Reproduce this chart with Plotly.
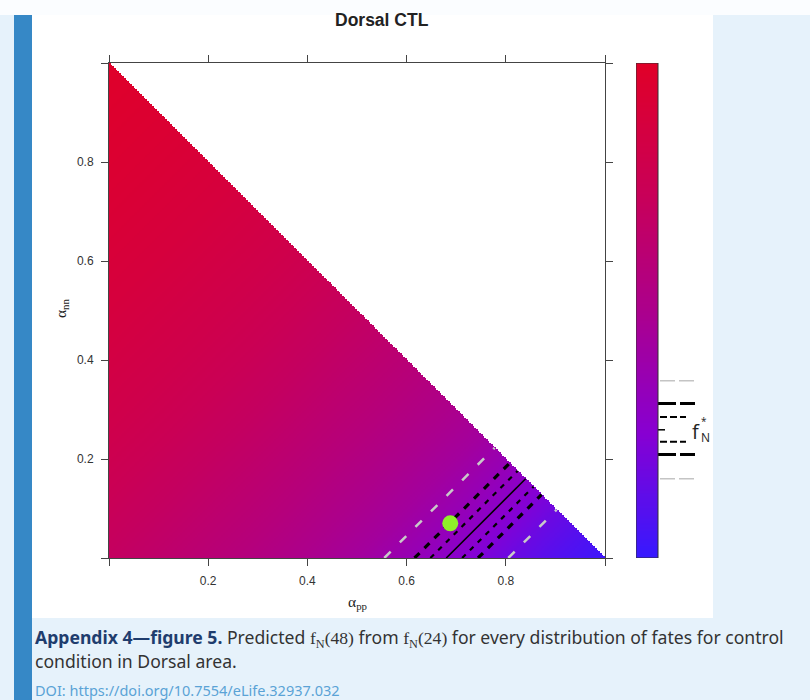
import numpy as np
import plotly.graph_objects as go

W, H = 810, 700

# ---------------- data ----------------
title_text = "Dorsal CTL"
tick_values = [0, 0.2, 0.4, 0.6, 0.8, 1.0]
tick_labels = ["", "0.2", "0.4", "0.6", "0.8", ""]

# predicted f_N* read along alpha_pp - alpha_nn (colour is constant along 45 deg lines)
profile_diff = [-1.0, -0.75, -0.5, -0.25, 0.0, 0.25, 0.5, 0.6, 0.7, 0.8, 0.9, 1.0]
profile_fN = [0.99, 0.94, 0.88, 0.80, 0.70, 0.58, 0.44, 0.36, 0.27, 0.17, 0.09, 0.02]

# contour lines (alpha_pp - alpha_nn)
contour_gray = [0.555, 0.805]
contour_thick = [0.616, 0.744]
contour_thin = [0.648, 0.712]
contour_solid = [0.68]

# observed point
observed_pp = [0.688]
observed_nn = [0.07]

# colour-key marks (f_N* levels)
key_gray = [0.358, 0.160]
key_thick = [0.312, 0.209]
key_thin = [0.285, 0.235]
key_center = [0.259]

colorscale = [
    [0.0, "rgb(55,25,255)"],
    [0.25, "rgb(135,0,210)"],
    [0.5, "rgb(172,0,140)"],
    [0.75, "rgb(202,0,85)"],
    [1.0, "rgb(224,0,40)"],
]

# ---------------- helpers ----------------
def px(x):
    return x / W


def py(y):
    return 1 - y / H


# main plot pixel frame
X0, X1 = 109, 605
Y0, Y1 = 63, 558
# colour key frame
CX0, CX1 = 636, 700
CB_W = 22

N = 300
centers = (np.arange(N) + 0.5) / N
A_pp, A_nn = np.meshgrid(centers, centers)
Z = np.interp(A_pp - A_nn, profile_diff, profile_fN)
Z = np.where(A_pp + A_nn > 1.0, np.nan, np.round(Z, 3))

fig = go.Figure()
fig.add_trace(go.Heatmap(x=centers, y=centers, z=Z, colorscale=colorscale,
                         zmin=0, zmax=1, showscale=False, hoverinfo="skip",
                         xaxis="x", yaxis="y"))

def add_lines(diffs, color, width, dash):
    for c in diffs:
        fig.add_trace(go.Scatter(x=[c, (1 + c) / 2], y=[0, (1 - c) / 2], mode="lines",
                                 line=dict(color=color, width=width, dash=dash),
                                 showlegend=False, hoverinfo="skip", xaxis="x", yaxis="y"))

add_lines(contour_gray, "#c9c9c9", 2.5, "9px,13px")
add_lines(contour_thin, "#000000", 2.2, "5px,6px")
add_lines(contour_thick, "#000000", 3.2, "7px,7px")
add_lines(contour_solid, "#000000", 1.6, "solid")

fig.add_trace(go.Scatter(x=observed_pp, y=observed_nn, mode="markers",
                         marker=dict(color="#8ff02a", size=16, line=dict(width=0)),
                         showlegend=False, hoverinfo="skip", xaxis="x", yaxis="y"))

# colour key (edges given for x and y)
levels = np.linspace(0, 1, 257)
level_edges = np.linspace(0, 1, 258)
fig.add_trace(go.Heatmap(x=[0, CB_W], y=level_edges, z=levels.reshape(-1, 1),
                         colorscale=colorscale, zmin=0, zmax=1, showscale=False,
                         hoverinfo="skip", xaxis="x2", yaxis="y2"))

def add_key(levels_, color, width, dash, x_end, x_start=CB_W):
    for lv in levels_:
        fig.add_trace(go.Scatter(x=[x_start, x_end], y=[lv, lv], mode="lines",
                                 line=dict(color=color, width=width, dash=dash),
                                 showlegend=False, hoverinfo="skip", xaxis="x2", yaxis="y2"))

add_key(key_gray, "#c4c4c4", 1.5, "15px,4px", 58, 24)
add_key(key_thick, "#000000", 3.0, "18px,4px", 59)
add_key(key_thin, "#000000", 2.0, "7px,3px", 50, 24)
add_key(key_center, "#000000", 1.5, "solid", 29)

axis_common = dict(showgrid=False, zeroline=False, showline=True, linecolor="#444",
                   linewidth=1, mirror="allticks", ticks="outside", ticklen=7,
                   tickcolor="#444", tickwidth=1, tickvals=tick_values, ticktext=tick_labels,
                   tickfont=dict(family="Liberation Sans, Arial", size=12, color="#333"),
                   range=[0, 1], fixedrange=True)

fig.update_layout(
    width=W, height=H, margin=dict(l=0, r=0, t=0, b=0),
    paper_bgcolor="#e6f2fb", plot_bgcolor="white",
    xaxis=dict(domain=[px(X0), px(X1)], anchor="y", ticklabelstandoff=5, **axis_common),
    yaxis=dict(domain=[py(Y1), py(Y0)], anchor="x", ticklabelstandoff=5, **axis_common),
    xaxis2=dict(domain=[px(CX0), px(CX1)], anchor="y2", range=[0, CX1 - CX0],
                visible=False, fixedrange=True),
    yaxis2=dict(domain=[py(Y1), py(Y0)], anchor="x2", range=[0, 1],
                visible=False, fixedrange=True),
    showlegend=False,
)

shapes = [
    dict(type="rect", xref="paper", yref="paper", x0=0, x1=1, y0=py(15), y1=1,
         fillcolor="#fbfdff", line_width=0, layer="below"),
    dict(type="rect", xref="paper", yref="paper", x0=px(32), x1=px(713), y0=py(618), y1=py(15),
         fillcolor="white", line_width=0, layer="below"),
    dict(type="rect", xref="paper", yref="paper", x0=px(14), x1=px(32), y0=0, y1=py(15),
         fillcolor="#3688c6", line_width=0, layer="below"),
    # colour-key border
    dict(type="rect", xref="x2", yref="y2", x0=0, x1=CB_W, y0=0, y1=1,
         line=dict(color="#333", width=1)),
]
fig.update_layout(shapes=shapes)

serif = "Liberation Serif, Times New Roman, serif"
cap_font = "Noto Sans, Open Sans"
ann = [
    dict(x=px(382), y=py(20), text="<b>" + title_text + "</b>",
         font=dict(family="Liberation Sans, Arial", size=17.5, color="#222")),
    dict(x=px(62), y=py(308), text="α<sub>nn</sub>", textangle=-90,
         font=dict(family=serif, size=15.5, color="#222")),
    dict(x=px(357), y=py(602), text="α<sub>pp</sub>",
         font=dict(family=serif, size=15.5, color="#222")),
    dict(x=px(696), y=py(431), text="f", font=dict(family="Open Sans, Liberation Sans", size=20, color="#222")),
    dict(x=px(704), y=py(421), text="*", font=dict(family="Open Sans, Liberation Sans", size=10, color="#222")),
    dict(x=px(705), y=py(437), text="N", font=dict(family="Open Sans, Liberation Sans", size=12, color="#222")),
    dict(x=px(33), y=py(638), xanchor="left",
         text="<span style='color:#1f3d6e'><b>Appendix 4—figure 5.</b></span> Predicted "
              "<span style='font-family:Liberation Serif'>f<sub>N</sub>(48)</span> from "
              "<span style='font-family:Liberation Serif'>f<sub>N</sub>(24)</span> for every distribution of fates for control",
         font=dict(family=cap_font, size=17.6, color="#333")),
    dict(x=px(33), y=py(661), xanchor="left", text="condition in Dorsal area.",
         font=dict(family=cap_font, size=17.6, color="#333")),
    dict(x=px(33), y=py(690), xanchor="left", text="DOI: https://doi.org/10.7554/eLife.32937.032",
         font=dict(family=cap_font, size=14.5, color="#5aa3d6")),
]
for a in ann:
    a.setdefault("xref", "paper")
    a.setdefault("yref", "paper")
    a.setdefault("showarrow", False)
    a.setdefault("xanchor", "center")
    a.setdefault("yanchor", "middle")
fig.update_layout(annotations=ann)

fig.write_html("out.html", config={"displayModeBar": False},
               post_script="document.body.style.margin='0';document.body.style.overflow='hidden';")
